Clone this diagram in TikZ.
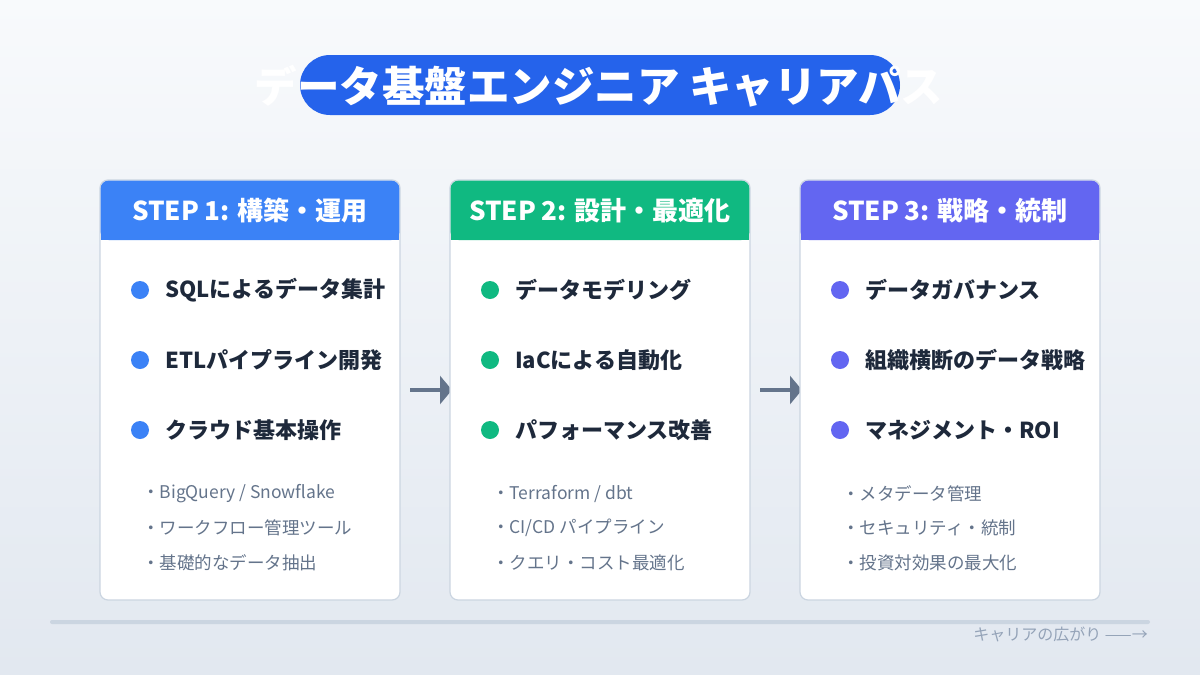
\documentclass[tikz,border=0pt]{standalone}
\usepackage{fontspec}
\setmainfont{Noto Sans CJK JP}
\usetikzlibrary{arrows.meta}
\definecolor{bgtop}{HTML}{F8FAFC}
\definecolor{bgbot}{HTML}{E2E8F0}
\definecolor{cA}{HTML}{3B82F6}
\definecolor{cB}{HTML}{10B981}
\definecolor{cC}{HTML}{6366F1}
\definecolor{pill}{HTML}{2563EB}
\definecolor{bordr}{HTML}{CBD5E1}
\definecolor{dark}{HTML}{1E293B}
\definecolor{subc}{HTML}{64748B}
\definecolor{arrc}{HTML}{64748B}
\definecolor{foot}{HTML}{94A3B8}
\tikzset{
  card/.style={draw=bordr,line width=1.2pt,fill=white,rounded corners=8pt},
  itemtxt/.style={anchor=west,text=dark,font=\fontsize{22}{26}\selectfont\bfseries,inner sep=0},
  subtxt/.style={anchor=west,text=subc,font=\fontsize{17.5}{20}\selectfont,inner sep=0},
  headtxt/.style={text=white,font=\fontsize{26}{30}\selectfont\bfseries,inner sep=0},
}
\begin{document}
\begin{tikzpicture}[x=1pt,y=-1pt]
\shade[top color=bgtop,bottom color=bgbot] (0,0) rectangle (1200,675);
\useasboundingbox (0,0) rectangle (1200,675);
\fill[pill,rounded corners=30pt] (300,55) rectangle (900,115);
\node[text=white,font=\fontsize{42.5}{46}\selectfont\bfseries,inner sep=0] (title) at (599,86) {データ基盤エンジニア キャリアパス};
\coordinate (a1s) at (410,390); \coordinate (a1e) at (452,390);
\coordinate (a2s) at (760,390); \coordinate (a2e) at (802,390);
\draw[arrc,line width=4pt,-{Triangle[length=12pt,width=28pt]}] (a1s) -- (a1e);
\draw[arrc,line width=4pt,-{Triangle[length=12pt,width=28pt]}] (a2s) -- (a2e);
\foreach \x/\c/\h/\ia/\ib/\ic/\sa/\sb/\sc/\n in {
 100/cA/{STEP 1: 構築・運用}/{SQLによるデータ集計}/{ETLパイプライン開発}/{クラウド基本操作}/{BigQuery / Snowflake}/{ワークフロー管理ツール}/{基礎的なデータ抽出}/1,
 450/cB/{STEP 2: 設計・最適化}/{データモデリング}/{IaCによる自動化}/{パフォーマンス改善}/{Terraform / dbt}/{CI/CD パイプライン}/{クエリ・コスト最適化}/2,
 800/cC/{STEP 3: 戦略・統制}/{データガバナンス}/{組織横断のデータ戦略}/{マネジメント・ROI}/{メタデータ管理}/{セキュリティ・統制}/{投資対効果の最大化}/3}{
  \draw[card] (\x,180) rectangle (\x+300,600);
  \fill[\c,rounded corners=8pt] (\x+0.6,180.6) rectangle (\x+299.4,240);
  \fill[\c] (\x+0.6,225) rectangle (\x+299.4,240);
  \node[headtxt] (h\n) at (\x+150,211) {\h};
  \foreach \y/\t in {290/\ia,360/\ib,430/\ic}{
    \fill[\c] (\x+40,\y) circle (9);
    \node[itemtxt] at (\x+65,\y) {\t};
  }
  \foreach \y/\t in {494/\sa,528/\sb,563/\sc}{
    \node[subtxt] at (\x+42,\y) {・\t};
  }
}
\fill[bordr,rounded corners=2pt] (50,620) rectangle (1150,624);
\node[anchor=east,text=foot,font=\fontsize{16}{18}\selectfont,inner sep=0] (ft) at (1148,634) {キャリアの広がり ——→};
\end{tikzpicture}
\end{document}
